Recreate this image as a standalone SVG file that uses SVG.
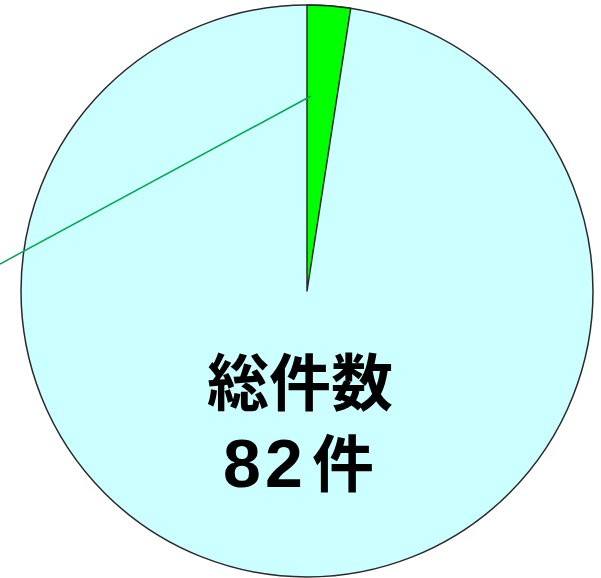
<svg xmlns="http://www.w3.org/2000/svg" width="601" height="578" viewBox="0 0 601 578">
<style>
.edge{stroke:#2a2a2a;stroke-width:1.5}
.lbl{font-family:"Liberation Sans","Noto Sans CJK JP",sans-serif;font-weight:bold;font-size:62px;fill:#000}
.num{font-size:68px}
</style>
<rect width="601" height="578" fill="#fff"/>
<g id="pie">
<circle cx="307" cy="291" r="286" fill="#ccffff" class="edge"/>
<path d="M307,291 L307,5 A286,286 0 0,1 350.67,8.34 Z" fill="#00ff00" class="edge" stroke-linejoin="round"/>
</g>
<g id="connectors">
<line x1="0" y1="264" x2="311" y2="96" stroke="#00a651" stroke-width="1.5"/>
</g>
<g id="label">
<text class="lbl" x="300" y="406" text-anchor="middle">総件数</text>
<text class="lbl" y="487"><tspan class="num" x="223">8</tspan><tspan class="num" x="265">2</tspan><tspan x="312">件</tspan></text>
</g>
</svg>
